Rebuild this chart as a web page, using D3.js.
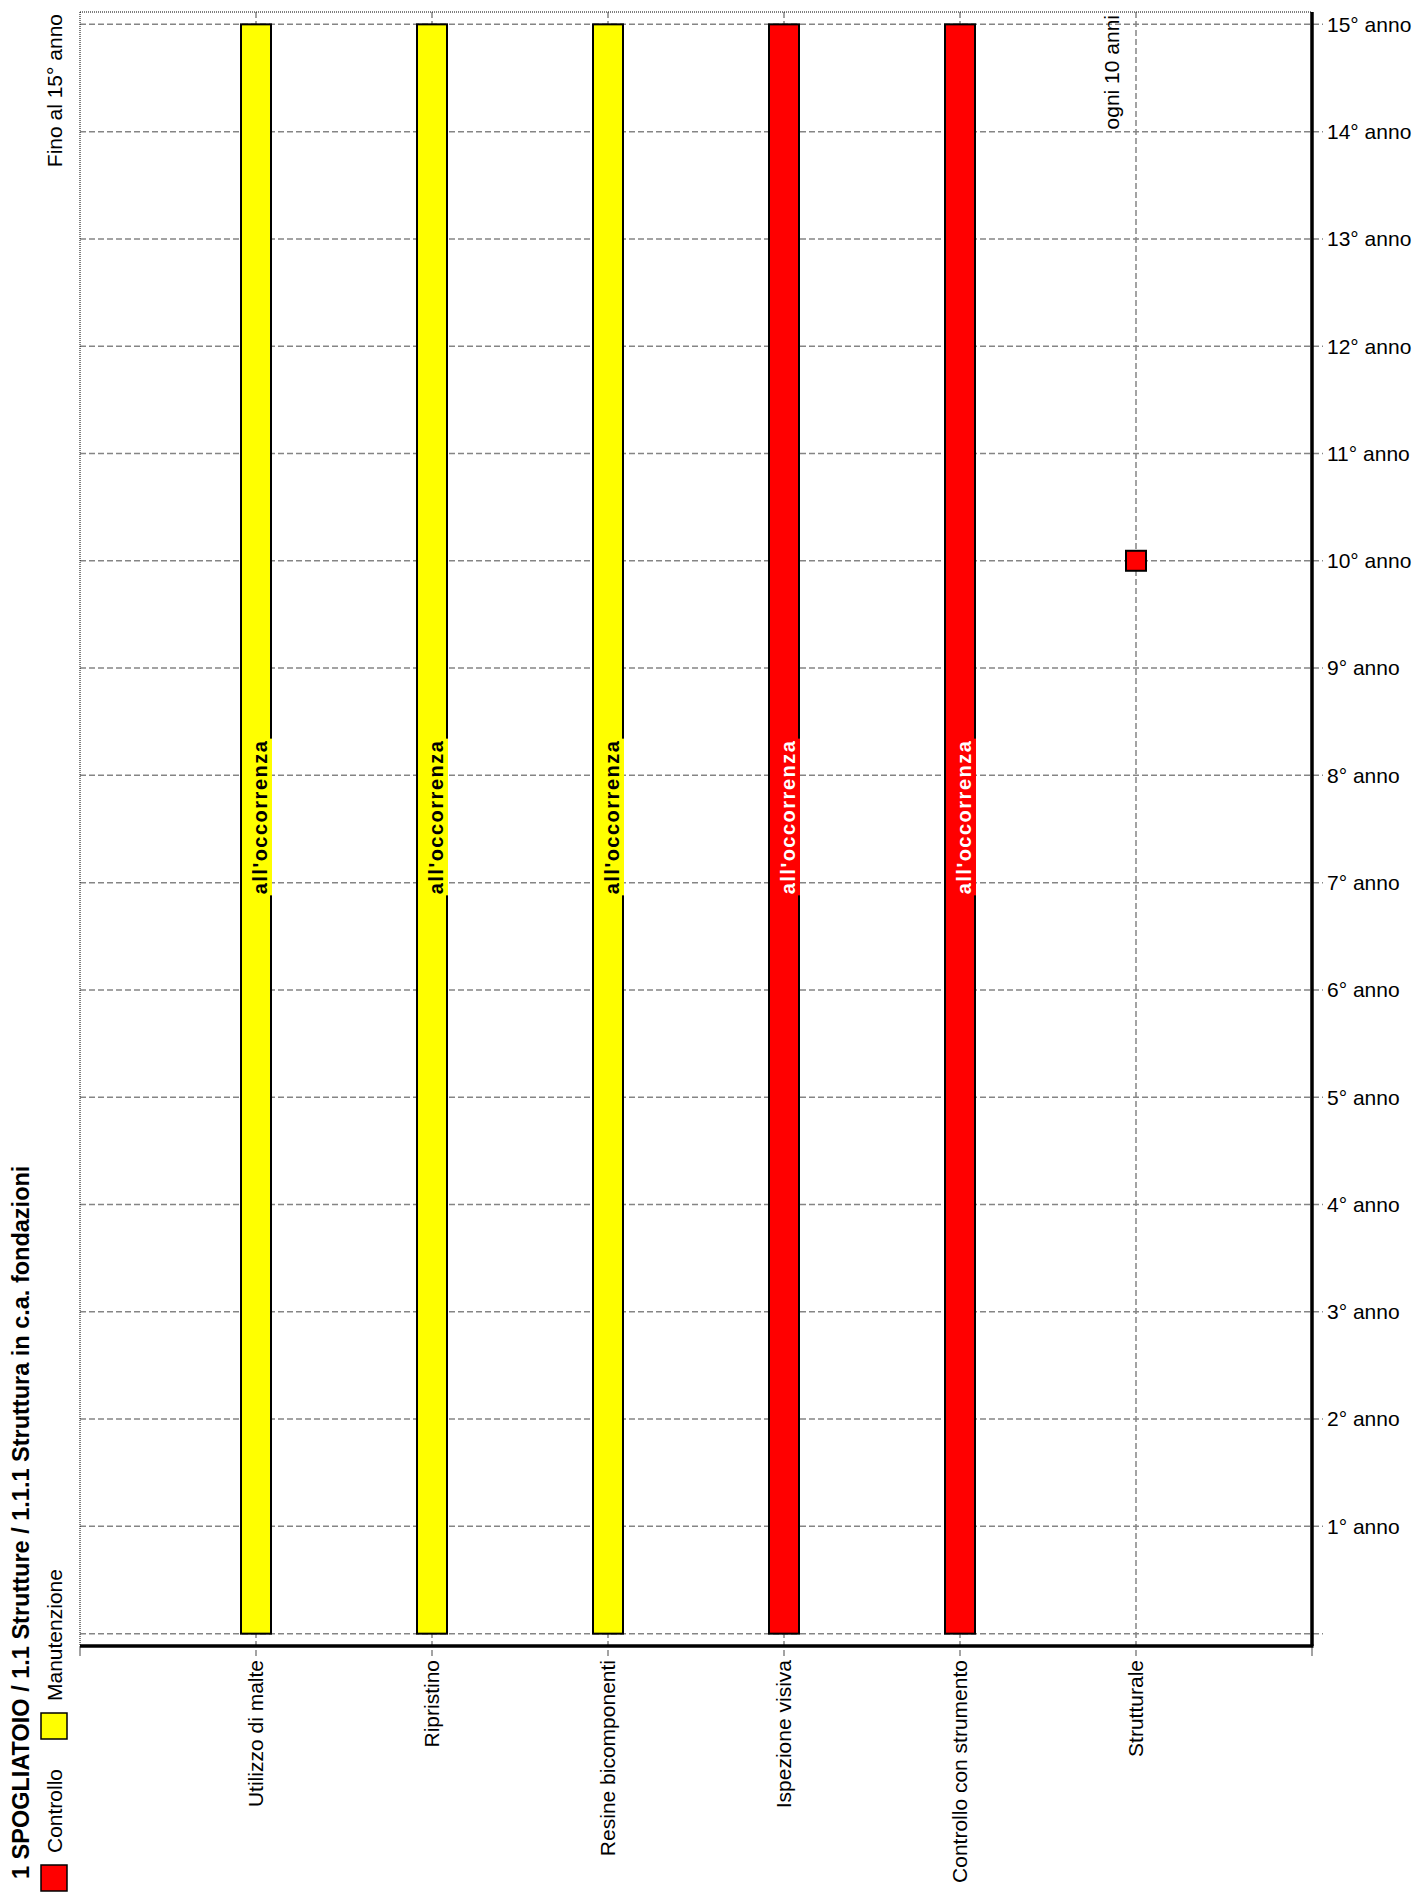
<!DOCTYPE html>
<html>
<head>
<meta charset="utf-8">
<script src="https://cdn.jsdelivr.net/npm/d3@7"></script>
<style>
  html, body { margin: 0; padding: 0; background: #fff; }
  svg { display: block; }
  text { font-family: "Liberation Sans", Arial, sans-serif; }
</style>
</head>
<body>
<svg id="chart" width="1416" height="1892"></svg>
<script>
// ---- data ----
const categories = ["Utilizzo di malte", "Ripristino", "Resine bicomponenti", "Ispezione visiva", "Controllo con strumento", "Strutturale"];
const barCategories = ["Utilizzo di malte", "Ripristino", "Resine bicomponenti", "Ispezione visiva", "Controllo con strumento"];
const barTypes = ["Manutenzione", "Manutenzione", "Manutenzione", "Controllo", "Controllo"];
const barStart = [0, 0, 0, 0, 0];
const barEnd = [15, 15, 15, 15, 15];
const barLabels = ["all'occorrenza", "all'occorrenza", "all'occorrenza", "all'occorrenza", "all'occorrenza"];
const pointCategories = ["Strutturale"];
const pointTypes = ["Controllo"];
const pointYears = [10];
const pointLabels = ["ogni 10 anni"];
const yearTicks = [0, 1, 2, 3, 4, 5, 6, 7, 8, 9, 10, 11, 12, 13, 14, 15];
const yearLabels = ["", "1° anno", "2° anno", "3° anno", "4° anno", "5° anno", "6° anno", "7° anno", "8° anno", "9° anno", "10° anno", "11° anno", "12° anno", "13° anno", "14° anno", "15° anno"];
const legendNames = ["Controllo", "Manutenzione"];
const legendColors = ["#ff0000", "#ffff00"];
const titleText = "1 SPOGLIATOIO / 1.1 Strutture / 1.1.1 Struttura in c.a. fondazioni";
const horizonText = "Fino al 15° anno";

// ---- layout ----
const plotLeft = 80, plotRight = 1312, plotTop = 12, plotBottom = 1646;
const yPad = 0.115;
const color = d3.scaleOrdinal().domain(legendNames).range(legendColors);

const svg = d3.select("#chart");
const x = d3.scalePoint().domain(categories).range([plotLeft, plotRight]).padding(1);
const y = d3.scaleLinear().domain([-yPad, 15 + yPad]).range([plotBottom, plotTop]);

const gridColor = "#858585";

// horizontal grid lines (years)
svg.append("g").selectAll("line").data(yearTicks).join("line")
  .attr("x1", plotLeft).attr("x2", plotRight + 11)
  .attr("y1", d => y(d)).attr("y2", d => y(d))
  .attr("stroke", gridColor).attr("stroke-width", 1.5).attr("stroke-dasharray", "6,3");

// vertical grid lines (categories)
svg.append("g").selectAll("line").data(categories).join("line")
  .attr("x1", d => x(d)).attr("x2", d => x(d))
  .attr("y1", plotTop).attr("y2", plotBottom + 10)
  .attr("stroke", gridColor).attr("stroke-width", 1.5).attr("stroke-dasharray", "6,3");

// edge ticks below the axis
svg.append("g").selectAll("line").data([plotLeft, plotRight]).join("line")
  .attr("x1", d => d).attr("x2", d => d)
  .attr("y1", plotBottom).attr("y2", plotBottom + 10)
  .attr("stroke", gridColor).attr("stroke-width", 1.5);

// top and left borders (thin dotted)
svg.append("line").attr("x1", plotLeft).attr("x2", plotRight).attr("y1", plotTop).attr("y2", plotTop)
  .attr("stroke", "#000").attr("stroke-width", 1).attr("stroke-dasharray", "1,1");
svg.append("line").attr("x1", plotLeft).attr("x2", plotLeft).attr("y1", plotTop).attr("y2", plotBottom)
  .attr("stroke", "#000").attr("stroke-width", 1).attr("stroke-dasharray", "1,1");

// bars
const barW = 30;
const bars = barCategories.map((c, i) => ({ c, t: barTypes[i], s: barStart[i], e: barEnd[i], label: barLabels[i] }));
const bg = svg.append("g");
bg.selectAll("rect").data(bars).join("rect")
  .attr("x", d => x(d.c) - barW / 2)
  .attr("width", barW)
  .attr("y", d => y(d.e))
  .attr("height", d => y(d.s) - y(d.e))
  .attr("fill", d => color(d.t))
  .attr("stroke", "#000").attr("stroke-width", 2);

// bar labels with background
bars.forEach(d => {
  const cx = x(d.c);
  const cy = (y(d.s) + y(d.e)) / 2 - 12;
  const g = svg.append("g").attr("transform", `translate(${cx + 11},${cy}) rotate(-90)`);
  const t = g.append("text")
    .attr("text-anchor", "middle")
    .attr("font-size", 20).attr("font-weight", "bold").attr("letter-spacing", 1.5)
    .attr("fill", d.t === "Controllo" ? "#fff" : "#000")
    .text(d.label);
  const len = t.node().getComputedTextLength();
  g.insert("rect", "text")
    .attr("x", -len / 2 - 1).attr("width", len + 2)
    .attr("y", -25).attr("height", 30)
    .attr("fill", color(d.t));
});

// points
const pts = pointCategories.map((c, i) => ({ c, t: pointTypes[i], v: pointYears[i], label: pointLabels[i] }));
svg.append("g").selectAll("rect").data(pts).join("rect")
  .attr("x", d => x(d.c) - 10).attr("y", d => y(d.v) - 10)
  .attr("width", 20).attr("height", 20)
  .attr("fill", d => color(d.t)).attr("stroke", "#000").attr("stroke-width", 2);
svg.append("g").selectAll("text").data(pts).join("text")
  .attr("transform", d => `translate(${x(d.c) - 17},${plotTop + 3}) rotate(-90)`)
  .attr("text-anchor", "end").attr("font-size", 21)
  .text(d => d.label);

// axes (thick)
svg.append("line").attr("x1", plotLeft).attr("x2", plotRight + 1.5).attr("y1", plotBottom).attr("y2", plotBottom)
  .attr("stroke", "#000").attr("stroke-width", 3.5);
svg.append("line").attr("x1", plotRight).attr("x2", plotRight).attr("y1", plotTop).attr("y2", plotBottom)
  .attr("stroke", "#000").attr("stroke-width", 3.5);

// right tick labels
svg.append("g").selectAll("text").data(yearTicks.filter((d, i) => yearLabels[i] !== "")).join("text")
  .attr("x", plotRight + 15).attr("y", d => y(d)).attr("dy", "0.35em")
  .attr("font-size", 21)
  .text(d => yearLabels[yearTicks.indexOf(d)]);

// category labels
svg.append("g").selectAll("text").data(categories).join("text")
  .attr("transform", d => `translate(${x(d)},${plotBottom + 14}) rotate(-90)`)
  .attr("dy", "0.35em").attr("text-anchor", "end").attr("font-size", 21)
  .text(d => d);

// horizon label
svg.append("text")
  .attr("transform", `translate(62,${plotTop + 2}) rotate(-90)`)
  .attr("text-anchor", "end").attr("font-size", 21)
  .text(horizonText);

// title
svg.append("text")
  .attr("transform", `translate(29,1879) rotate(-90)`)
  .attr("font-size", 23.5).attr("font-weight", "bold")
  .text(titleText);

// legend
const legendY = [1865, 1713];
legendNames.forEach((n, i) => {
  svg.append("rect").attr("x", 41).attr("y", legendY[i]).attr("width", 26).attr("height", 26)
    .attr("fill", legendColors[i]).attr("stroke", "#000").attr("stroke-width", 1.5);
  svg.append("text")
    .attr("transform", `translate(62,${legendY[i] - 12}) rotate(-90)`)
    .attr("font-size", 21).text(n);
});
</script>
</body>
</html>
